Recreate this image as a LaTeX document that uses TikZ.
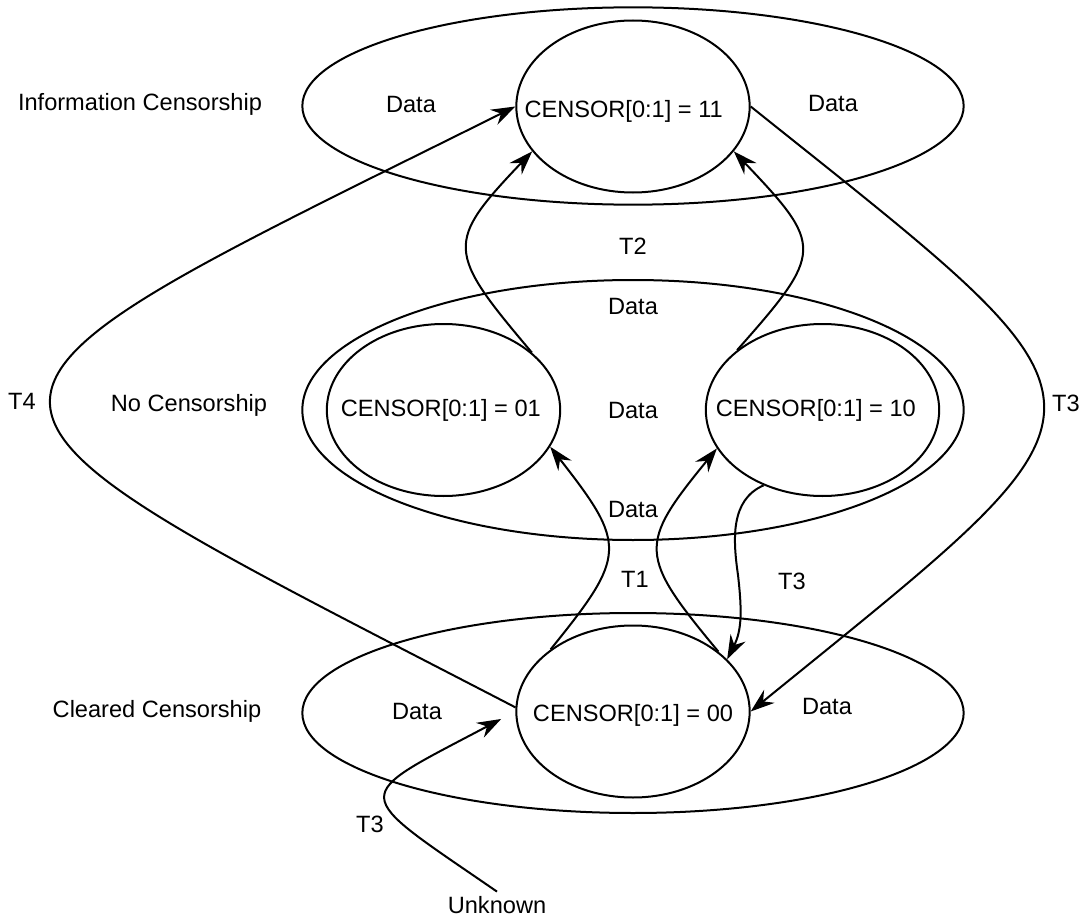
\documentclass[tikz,border=0pt]{standalone}
\usepackage{fontspec}
\setmainfont{Liberation Sans}
\usetikzlibrary{arrows.meta,shapes.geometric}

\begin{document}
\begin{tikzpicture}[
      x=0.75pt,y=-0.75pt,
      font=\fontsize{17.7}{21}\selectfont,
      zone/.style={ellipse,draw,line width=1.5pt,minimum width=496pt,inner sep=0pt},
      st/.style={ellipse,draw,line width=1.5pt,minimum width=175pt,minimum height=129pt,inner sep=0pt},
      arr/.style={-{Stealth[length=18pt,width=12.5pt,inset=6pt]},line width=1.5pt}
    ]
    \useasboundingbox (0,0) rectangle (1083,917);
    % censorship zones
    \node[zone,minimum height=148pt] (info) at (633,106) {};
    \node[zone,minimum height=195pt] (none) at (633,410) {};
    \node[zone,minimum height=150pt] (clr)  at (633,713) {};
    \node (tInfo) at (140,104) {Information Censorship};
    \node (tNone) at (189,405) {No Censorship};
    \node (tClr)  at (157,711) {Cleared Censorship};
    % states
    \node[st,label={[xshift=-7pt,yshift=-4pt]center:{CENSOR[0:1] = 11}}] (s11) at (633,106.5) {};
    \node[st,label={[xshift=-2pt]center:{CENSOR[0:1] = 01}}] (s01) at (443.5,410) {};
    \node[st,label={[xshift=-5pt]center:{CENSOR[0:1] = 10}}] (s10) at (822.5,410) {};
    \node[st,label={[yshift=-3pt]center:{CENSOR[0:1] = 00}}] (s00) at (633,711.5) {};
    % data labels
    \node (d1) at (411,104) {Data};
    \node (d2) at (833,103) {Data};
    \node (d3) at (633,306) {Data};
    \node (d4) at (633,410) {Data};
    \node (d5) at (633,509) {Data};
    \node (d6) at (417,711) {Data};
    \node (d7) at (827,706) {Data};
    % transitions
    \node (t2)  at (633,246) {T2};
    \node (t1)  at (635,579) {T1};
    \node (t3a) at (792,581) {T3};
    \node (t4)  at (22,401) {T4};
    \node (t3b) at (1066,403) {T3};
    \node (t3c) at (370,824) {T3};
    \node (unk) at (497,905) {Unknown};
    \draw[arr] (s00.178) .. controls (-103,387) and (-103,414) .. (s11.west);
    \draw[arr] (s11.east) .. controls (1140,418) and (1140,395) .. (s00.east);
    \draw[arr] (s01.33) .. controls (446,251) and (445,243) .. (s11.204);
    \draw[arr] (s10.145) .. controls (824,252) and (824,246) .. (s11.336);
    \draw[arr] (s00.143) .. controls (627,555) and (627,545) .. (s01.341);
    \draw[arr] (s00.35) .. controls (638,555) and (638,545) .. (s10.200);
    \draw[arr] (s10.232) .. controls (730,500) and (733,540) .. (738,575)
                         .. controls (742,610) and (742,630) .. (s00.29);
    \draw[arr,shorten >=12pt] (unk.north) .. controls (348,789) and (348,800) .. (s00.west);
  \end{tikzpicture}
\end{document}
